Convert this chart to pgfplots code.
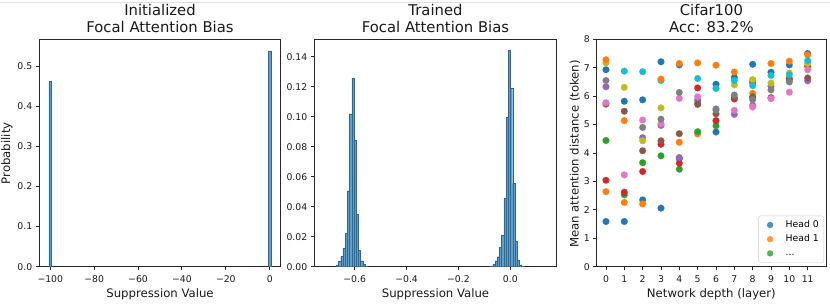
\documentclass[border=0pt]{standalone}
\usepackage{fontspec}
\setmainfont{DejaVu Sans}
\usepackage{pgfplots}
\pgfplotsset{compat=1.18}
\definecolor{tabblue}{HTML}{1F77B4}
\definecolor{taborange}{HTML}{FF7F0E}
\definecolor{tabgreen}{HTML}{2CA02C}
\definecolor{tabred}{HTML}{D62728}
\definecolor{tabpurple}{HTML}{9467BD}
\definecolor{tabbrown}{HTML}{8C564B}
\definecolor{tabpink}{HTML}{E377C2}
\definecolor{tabgray}{HTML}{7F7F7F}
\definecolor{tabolive}{HTML}{BCBD22}
\definecolor{tabcyan}{HTML}{17BECF}
\definecolor{barfill}{RGB}{98,160,202}
\definecolor{baredge}{HTML}{2F6690}
\newcommand\ftitle{\fontsize{14.8}{17}\selectfont}
\newcommand\flab{\fontsize{11.7}{14}\selectfont}
\newcommand\ftick{\fontsize{9.3}{11}\selectfont}
\pgfplotsset{
  myax/.style={scale only axis, anchor=south west,
    axis line style={black!85, line width=0.9pt},
    tick style={black!85, line width=0.9pt},
    tick align=outside, major tick length=3.5pt, tick pos=left,
    ticklabel style={font=\ftick, text=black!90},
    xticklabel style={yshift=-2pt},
    /pgf/number format/assume math mode=true},
}
\begin{document}
\begin{tikzpicture}
\useasboundingbox (0pt,0pt) rectangle (830pt,303pt);
\draw[gray!25, line width=0.8pt] (0pt,300.3pt) -- (830pt,300.3pt);

% ---------- Panel 1 ----------
\begin{axis}[myax, at={(39.3pt,36.3pt)}, width=241.4pt, height=227.4pt,
  xmin=-105, xmax=5, ymin=0, ymax=0.567,
  xtick={-100,-80,-60,-40,-20,0}, xticklabels={−100,−80,−60,−40,−20,0},
  ytick={0,0.1,0.2,0.3,0.4,0.5}, yticklabels={0.0,0.1,0.2,0.3,0.4,0.5}]
\addplot[ybar, bar width=1.2, fill=barfill, draw=baredge, line width=0.25pt]
  coordinates {(-100,0.463) (0,0.537)};
\end{axis}

% ---------- Panel 2 ----------
\begin{axis}[myax, at={(314.3pt,36.3pt)}, width=242.4pt, height=227.4pt,
  xmin=-0.756, xmax=0.179, ymin=0, ymax=0.1516,
  xtick={-0.6,-0.4,-0.2,0}, xticklabels={−0.6,−0.4,−0.2,0.0},
  ytick={0,0.02,0.04,0.06,0.08,0.10,0.12,0.14},
  yticklabels={0.00,0.02,0.04,0.06,0.08,0.10,0.12,0.14}]
\addplot[ybar, bar width=0.0085, fill=barfill, draw=baredge, line width=0.25pt]
  coordinates {
  (-0.66675,0.0012) (-0.65825,0.0035) (-0.64975,0.0068) (-0.64125,0.0125)
  (-0.63275,0.0222) (-0.62425,0.0507) (-0.61575,0.1018) (-0.60725,0.1258)
  (-0.59875,0.0846) (-0.59025,0.0348) (-0.58175,0.0110) (-0.57325,0.0040)
  (-0.56475,0.0016) (-0.55625,0.0006)
  (-0.07175,0.0005) (-0.06325,0.0015) (-0.05475,0.0040) (-0.04625,0.0067)
  (-0.03775,0.0129) (-0.02925,0.0210) (-0.02075,0.0456) (-0.01225,0.0996)
  (-0.00375,0.1444) (0.00475,0.1190) (0.01325,0.0556) (0.02175,0.0170)
  (0.03025,0.0044) (0.03875,0.0012) (0.04725,0.0004)
  };
\end{axis}

% ---------- Panel 3 ----------
\begin{axis}[myax, at={(596.8pt,36.3pt)}, width=229.2pt, height=227.4pt,
  xmin=-0.5, xmax=12, ymin=0, ymax=8,
  xtick={0,1,2,3,4,5,6,7,8,9,10,11}, xticklabels={0,1,2,3,4,5,6,7,8,9,10,11},
  ytick={0,1,2,3,4,5,6,7,8}, yticklabels={0,1,2,3,4,5,6,7,8},
  legend style={at={(1,0)}, anchor=south east, xshift=-2pt, yshift=4pt,
    draw=black!20, rounded corners=2pt, fill=white, fill opacity=0.8, text opacity=1,
    font=\ftick, inner xsep=3pt, inner ysep=2pt, row sep=0pt,
    nodes={inner xsep=2pt, inner ysep=2.6pt, text height=7pt, text depth=2pt}},
  legend cell align=left,
  legend image code/.code={\path[draw=none, fill=none] (0pt,-3pt) rectangle (22pt,3pt);
    \fill[#1, draw=none] (8.5pt,0pt) circle[radius=3.2pt];},
  every axis plot/.append style={only marks, mark=*, mark size=3.4pt, mark options={line width=0.1pt}}]
\addplot[color=tabblue] coordinates {(0,6.93) (0,1.59) (1,5.82) (1,1.59) (2,5.87) (2,2.35)
  (3,7.21) (3,2.06) (4,7.10) (4,3.80) (5,5.86) (6,6.42) (6,4.74) (7,6.66) (8,8.03) (8,7.12)
  (9,6.84) (10,7.10) (11,7.50)};
\addlegendentry{Head 0}
\addplot[color=taborange] coordinates {(0,2.64) (1,5.14) (1,2.26) (2,2.21) (4,7.15)
  (4,4.38) (5,7.17) (5,4.67) (6,7.09) (7,6.85) (8,6.57) (8,6.10) (9,7.15) (10,7.23) (11,7.45)};
\addlegendentry{Head 1}
\addplot[color=tabgreen] coordinates {(0,4.44) (1,2.53) (2,3.66) (3,3.90) (4,3.43) (5,4.75)
  (6,4.96) (8,5.98)};
\addlegendentry{...}
\addplot[color=tabred, forget plot] coordinates {(0,3.04) (1,2.62) (2,3.35) (3,4.31) (4,3.64)
  (5,6.29) (6,5.14) (7,5.90) (8,6.47) (10,6.62) (11,7.05)};
\addplot[color=tabpurple, forget plot] coordinates {(0,6.33) (2,4.54) (3,4.97) (4,3.84)
  (5,5.76) (6,5.55) (7,5.36) (8,5.68) (9,6.35) (11,6.54)};
\addplot[color=tabbrown, forget plot] coordinates {(0,5.72) (1,5.47) (2,4.08) (3,4.43)
  (4,4.68) (5,5.71) (6,5.38) (7,5.95) (8,5.95) (9,5.95) (10,6.57) (11,6.64)};
\addplot[color=tabpink, forget plot] coordinates {(0,5.77) (1,3.23) (2,5.16) (3,5.03)
  (4,5.92) (5,5.98) (7,5.50) (8,5.62) (9,5.91) (10,6.14) (11,6.93)};
\addplot[color=tabgray, forget plot] coordinates {(0,6.55) (2,4.90) (3,5.19) (4,6.13)
  (6,5.50) (7,6.04) (8,5.88) (9,6.22) (10,6.50)};
\addplot[color=tabolive, forget plot] coordinates {(0,7.17) (1,6.31) (2,4.43) (3,5.59)
  (7,6.40) (8,6.58) (9,6.46) (10,6.81) (11,7.15)};
\addplot[color=tabcyan, forget plot] coordinates {(1,6.88) (2,6.86) (3,6.55) (5,6.62)
  (6,6.27) (7,6.55) (8,6.37) (9,6.73) (10,6.75) (11,7.25)};
\addplot[color=taborange, forget plot] coordinates {(0,7.28) (3,6.60)};
\end{axis}

% ---------- titles and labels ----------
\begin{scope}[every node/.style={text=black!90, inner sep=0pt}]
\node[font=\ftitle, anchor=base] at (160pt,287pt) {Initialized};
\node[font=\ftitle, anchor=base] at (160pt,270.3pt) {Focal Attention Bias};
\node[font=\ftitle, anchor=base] at (435.5pt,287pt) {Trained};
\node[font=\ftitle, anchor=base] at (435.5pt,270.3pt) {Focal Attention Bias};
\node[font=\ftitle, anchor=base] at (711.4pt,287pt) {Cifar100};
\node[font=\ftitle, anchor=base] at (711.4pt,270.3pt) {Acc: 83.2\%};
\node[font=\flab, anchor=base] at (160pt,5.7pt) {Suppression Value};
\node[font=\flab, anchor=base] at (435.5pt,5.7pt) {Suppression Value};
\node[font=\flab, anchor=base] at (711.4pt,5.3pt) {Network depth (layer)};
\node[font=\flab, anchor=base, rotate=90] at (10pt,149.7pt) {Probability};
\node[font=\flab, anchor=base, rotate=90] at (578.5pt,149pt) {Mean attention distance (token)};
\end{scope}
\end{tikzpicture}
\end{document}
